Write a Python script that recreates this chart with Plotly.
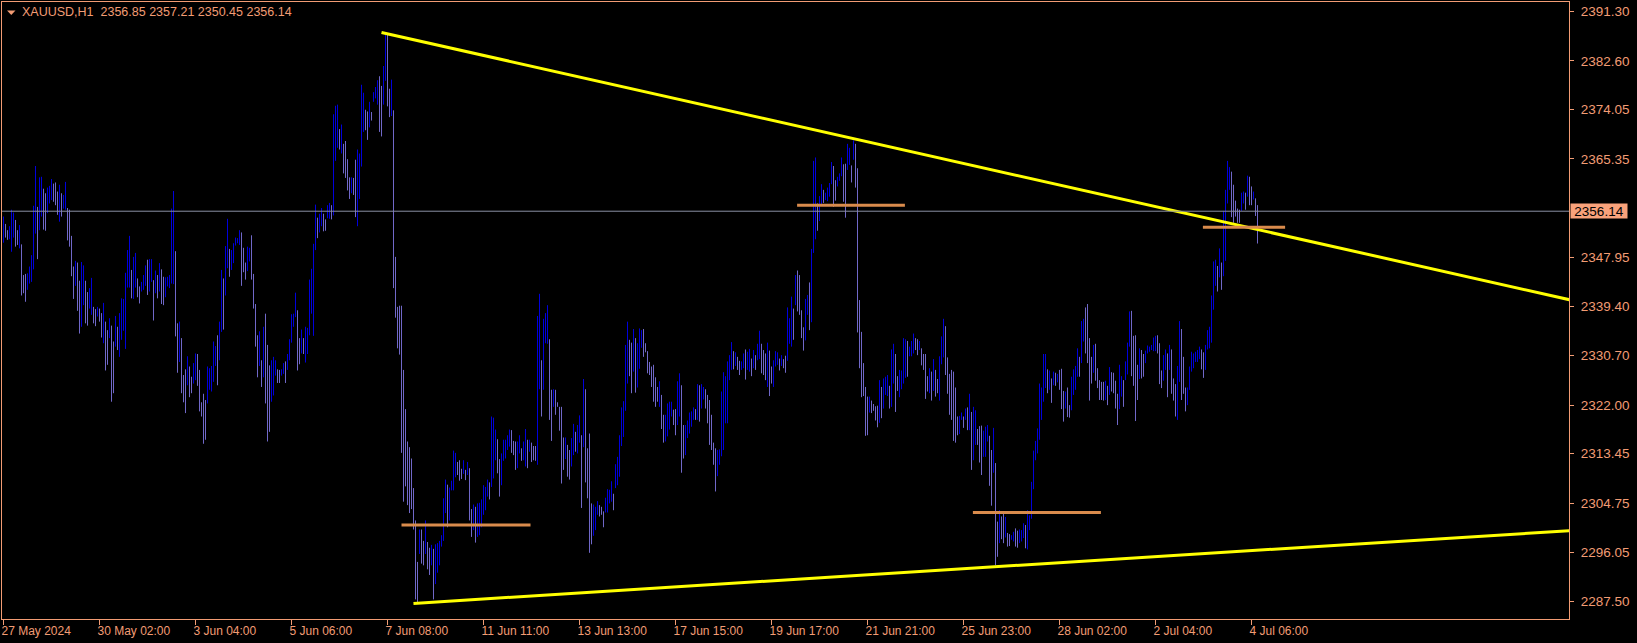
import plotly.graph_objects as go

# ---------------- data (XAUUSD H1) ----------------
symbol_header = "XAUUSD,H1  2356.85 2357.21 2350.45 2356.14"
bid_price = 2356.14

bar_high = [
    2355.2, 2353.9, 2352.8, 2353.5, 2356.4, 2355.9, 2354.6, 2352.8, 2353.7, 2350.3,  # 0
    2344.9, 2345.1, 2345.2, 2346.4, 2348.4, 2357.1, 2364.1, 2356.9, 2362.1, 2362.2,  # 10
    2360.1, 2359.3, 2360.3, 2360.6, 2361.8, 2361.0, 2361.2, 2359.6, 2360.8, 2359.3,  # 20
    2359.0, 2361.3, 2356.7, 2356.4, 2351.8, 2346.4, 2347.4, 2347.1, 2343.9, 2347.2,  # 30
    2346.6, 2343.9, 2341.9, 2342.6, 2344.4, 2339.3, 2338.9, 2339.3, 2339.0, 2338.2,  # 40
    2340.0, 2336.7, 2335.2, 2337.3, 2336.0, 2333.2, 2337.7, 2335.8, 2338.2, 2340.8,  # 50
    2340.7, 2345.3, 2349.3, 2351.8, 2345.8, 2348.1, 2348.8, 2344.3, 2342.9, 2343.7,  # 60
    2344.9, 2346.6, 2347.6, 2347.7, 2347.7, 2344.0, 2345.7, 2344.9, 2347.0, 2345.9,  # 70
    2344.6, 2344.5, 2344.6, 2344.9, 2356.6, 2359.7, 2349.1, 2336.4, 2336.7, 2333.8,  # 80
    2327.3, 2328.3, 2330.6, 2328.8, 2327.0, 2329.4, 2331.1, 2331.0, 2328.2, 2322.5,  # 90
    2324.0, 2322.9, 2328.8, 2328.5, 2328.9, 2333.2, 2332.4, 2334.3, 2336.7, 2345.8,  # 100
    2344.3, 2350.0, 2354.8, 2349.5, 2349.3, 2350.5, 2351.5, 2351.4, 2352.8,          # 110
    2352.4, 2349.7, 2347.1, 2349.9, 2349.7, 2351.9, 2345.1, 2339.8, 2334.3, 2335.0,  # 119
    2329.9, 2335.8, 2338.1, 2332.6, 2329.0, 2329.9, 2330.5, 2329.9, 2328.3, 2328.2,  # 129
    2328.3, 2329.4, 2329.7, 2331.0, 2333.6, 2338.0, 2338.1, 2341.8, 2338.7, 2333.8,  # 139
    2335.3, 2333.8, 2335.8, 2335.6, 2344.1, 2346.0, 2350.4, 2357.3, 2355.0, 2355.7,  # 149
    2356.7, 2355.7, 2354.7, 2357.2, 2357.6, 2357.2, 2373.2, 2374.7, 2374.9, 2370.6,  # 159
    2371.4, 2368.0, 2368.5, 2365.3, 2362.1, 2362.1, 2362.0, 2365.2, 2367.0, 2366.3,  # 169
    2378.4, 2377.0, 2374.0, 2373.7, 2375.4, 2373.6, 2377.1, 2378.0, 2379.2, 2379.9,  # 179
    2378.2, 2381.7, 2387.3, 2387.3, 2377.7, 2379.3, 2373.9, 2348.1, 2339.3, 2339.5,  # 189
    2339.5, 2328.2, 2321.3, 2315.6, 2314.6, 2312.6, 2307.4, 2301.7, 2294.4, 2300.1,  # 199
    2300.1, 2298.1, 2301.7, 2297.9, 2296.9, 2297.4, 2296.7, 2297.5, 2297.7, 2298.1,  # 209
    2299.1, 2305.6, 2308.9, 2308.0, 2307.5, 2308.7, 2314.0, 2313.6, 2312.0, 2312.3,  # 219
    2310.8, 2312.3, 2310.6, 2312.0, 2310.9, 2303.7, 2304.5, 2304.1, 2304.7, 2304.8,  # 229
    2305.4, 2307.9, 2307.6, 2308.9, 2308.4, 2320.0, 2319.8, 2317.7, 2316.0, 2312.5,  # 239
    2313.5, 2315.9, 2315.9, 2316.7, 2317.7, 2317.6, 2315.7, 2315.6, 2315.6, 2316.7,  # 249
    2314.4, 2315.6, 2317.8, 2315.9, 2315.9, 2315.4, 2314.8, 2314.8, 2337.7, 2341.6,  # 259
    2329.9, 2337.2, 2338.2, 2339.6, 2333.6, 2324.7, 2324.8, 2324.7, 2322.5, 2321.7,  # 269
    2321.7, 2316.3, 2316.3, 2315.0, 2314.1, 2316.2, 2318.7, 2317.3, 2318.5, 2320.2,  # 279
    2316.7, 2326.6, 2324.8, 2314.4, 2317.0, 2304.7, 2304.5, 2304.1, 2305.1, 2304.4,  # 289
    2304.1, 2303.3, 2305.7, 2307.2, 2307.1, 2308.6, 2306.4, 2311.6, 2312.9, 2316.7,  # 299
    2321.6, 2322.7, 2332.6, 2336.7, 2333.5, 2333.0, 2335.4, 2333.8, 2332.9, 2335.5,  # 309
    2335.2, 2335.4, 2332.9, 2331.5, 2329.6, 2328.8, 2329.1, 2326.9, 2325.2, 2326.2,  # 319
    2323.8, 2320.3, 2320.3, 2322.3, 2322.6, 2322.6, 2321.2, 2321.3, 2326.2, 2327.6,  # 329
    2325.5, 2318.5, 2318.5, 2319.3, 2320.7, 2320.9, 2321.6, 2321.3, 2325.7, 2325.5,  # 339
    2325.7, 2325.2, 2324.8, 2323.8, 2322.9, 2320.3, 2315.4, 2314.4, 2314.1, 2314.2,  # 349
    2324.4, 2327.8, 2327.1, 2329.7, 2330.8, 2333.1, 2331.5, 2331.3, 2330.5, 2329.8,  # 359
    2329.7, 2331.1, 2331.8, 2331.4, 2331.9, 2330.2, 2331.7, 2330.8, 2332.8, 2335.1,  # 369
    2332.8, 2331.7, 2331.1, 2333.0, 2331.6, 2328.8, 2329.9, 2331.5, 2331.3, 2330.2,  # 379
    2330.8, 2330.1, 2330.7, 2339.2, 2337.3, 2341.1, 2339.0, 2344.9, 2345.7, 2344.9,  # 389
    2338.7, 2335.7, 2340.7, 2341.4, 2343.6, 2349.5, 2365.0, 2365.6, 2357.5, 2358.8,  # 399
    2360.9, 2359.9, 2359.4, 2360.3, 2361.1, 2364.8, 2364.1, 2361.6, 2362.2, 2362.8,  # 409
    2365.6, 2364.4, 2364.5, 2368.0, 2367.3, 2364.2, 2368.6, 2368.0, 2363.7, 2340.5,  # 419
    2334.9, 2329.4, 2325.2, 2323.5, 2323.5, 2322.8, 2322.2, 2321.8, 2321.9, 2326.4,  # 429
    2325.2, 2326.7, 2327.0, 2327.3, 2325.4, 2331.8, 2332.8, 2331.0, 2327.1, 2328.2,  # 439
    2328.1, 2333.8, 2333.6, 2333.3, 2332.3, 2333.3, 2334.6, 2333.8, 2333.6, 2333.3,  # 449
    2332.0, 2331.0, 2331.0, 2327.1, 2328.5, 2327.9, 2330.1, 2328.2, 2326.6, 2330.6,  # 459
    2334.1, 2337.2, 2335.9, 2330.4, 2327.5, 2328.2, 2327.9, 2325.1, 2320.0, 2320.1,  # 469
    2320.7, 2320.0, 2321.4, 2321.6, 2324.0, 2320.8, 2321.7, 2321.1, 2317.8, 2318.3,  # 479
    2318.4, 2317.5, 2318.2, 2318.5, 2316.6, 2314.1, 2318.0, 2311.8, 2301.5, 2303.5,  # 489
    2302.4, 2303.1, 2302.3, 2299.5, 2299.3, 2299.1, 2299.7, 2300.3, 2299.9, 2300.1,  # 499
    2300.0, 2301.2, 2300.9, 2303.5, 2302.6, 2308.5, 2314.0, 2315.7, 2317.9, 2325.8,  # 509
    2325.1, 2331.0, 2331.0, 2328.3, 2328.1, 2326.7, 2327.9, 2327.7, 2327.5, 2328.2,  # 519
    2328.4, 2324.5, 2324.4, 2325.1, 2322.0, 2327.0, 2328.3, 2328.9, 2332.0, 2330.5,  # 529
    2336.8, 2337.2, 2339.2, 2339.8, 2333.8, 2330.5, 2332.6, 2332.8, 2328.5, 2326.4,  # 539
    2326.1, 2326.1, 2326.3, 2325.4, 2328.7, 2327.8, 2327.7, 2326.3, 2324.0, 2329.1,  # 549
    2327.1, 2326.4, 2329.7, 2333.0, 2338.5, 2338.6, 2334.2, 2334.3, 2329.1, 2332.0,  # 559
    2331.7, 2331.0, 2331.6, 2332.5, 2332.3, 2332.6, 2333.9, 2334.2, 2334.3, 2332.9,  # 569
    2328.1, 2330.8, 2331.8, 2331.1, 2332.6, 2331.8, 2326.7, 2325.7, 2328.9, 2336.8,  # 579
    2335.4, 2330.5, 2325.1, 2325.1, 2328.8, 2331.4, 2331.1, 2331.4, 2331.7, 2332.3,  # 589
    2331.8, 2331.3, 2332.6, 2335.2, 2335.8, 2341.3, 2347.3, 2347.6, 2346.5, 2349.6,  # 599
    2347.1, 2356.2, 2359.9, 2365.0, 2363.9, 2363.1, 2360.8, 2358.0, 2356.6, 2356.4,  # 609
    2359.4, 2359.6, 2359.4, 2362.4, 2362.2, 2360.5, 2359.6, 2358.4, 2357.21,         # 619
]

bar_low = [
    2350.6, 2351.5, 2351.1, 2351.2, 2349.0, 2351.5, 2349.9, 2350.2, 2349.6, 2341.3,  # 0
    2341.7, 2340.2, 2342.3, 2343.4, 2343.7, 2345.9, 2352.2, 2347.7, 2352.8, 2355.2,  # 10
    2352.9, 2352.7, 2355.8, 2357.5, 2358.1, 2357.8, 2357.2, 2355.5, 2354.3, 2355.2,  # 20
    2356.6, 2356.4, 2351.0, 2349.9, 2344.7, 2340.7, 2343.0, 2338.6, 2334.6, 2335.8,  # 30
    2339.6, 2336.4, 2336.0, 2339.0, 2337.9, 2336.4, 2335.9, 2337.6, 2336.7, 2333.9,  # 40
    2332.9, 2328.1, 2329.1, 2333.8, 2322.6, 2324.1, 2332.3, 2331.7, 2330.5, 2333.5,  # 50
    2335.1, 2331.9, 2342.7, 2342.7, 2340.8, 2340.7, 2342.7, 2341.0, 2339.9, 2342.0,  # 60
    2342.3, 2343.0, 2341.4, 2342.0, 2343.7, 2336.9, 2341.7, 2340.8, 2342.0, 2339.8,  # 70
    2339.6, 2341.0, 2342.9, 2342.6, 2343.4, 2343.3, 2334.1, 2327.7, 2329.6, 2324.1,  # 80
    2322.5, 2320.6, 2325.5, 2323.4, 2324.1, 2325.8, 2326.4, 2325.4, 2320.9, 2320.0,  # 90
    2315.2, 2315.9, 2322.3, 2324.7, 2324.4, 2326.1, 2328.9, 2325.5, 2329.9, 2334.9,  # 100
    2335.3, 2341.3, 2346.1, 2344.6, 2345.8, 2347.0, 2350.1, 2350.5, 2350.2,          # 110
    2343.0, 2345.4, 2344.1, 2345.6, 2347.3, 2344.1, 2339.0, 2332.3, 2326.9, 2328.9,  # 119
    2325.2, 2326.9, 2322.3, 2315.6, 2317.3, 2322.6, 2323.7, 2327.2, 2325.9, 2325.9,  # 129
    2327.2, 2327.5, 2325.9, 2328.2, 2329.9, 2333.0, 2335.8, 2337.5, 2328.1, 2329.2,  # 139
    2331.1, 2331.0, 2329.5, 2331.0, 2334.3, 2338.1, 2334.2, 2349.3, 2351.4, 2352.4,  # 149
    2353.5, 2352.6, 2352.7, 2354.9, 2354.8, 2354.7, 2355.4, 2365.0, 2367.3, 2367.0,  # 159
    2366.3, 2362.8, 2362.0, 2359.8, 2358.3, 2359.3, 2359.0, 2355.1, 2353.5, 2358.3,  # 169
    2364.0, 2370.1, 2370.4, 2368.7, 2370.9, 2372.1, 2375.4, 2376.0, 2374.9, 2370.1,  # 179
    2369.3, 2374.9, 2379.1, 2374.6, 2372.7, 2372.9, 2342.6, 2337.4, 2332.0, 2330.9,  # 189
    2313.6, 2305.0, 2307.7, 2304.4, 2303.0, 2303.7, 2300.1, 2287.8, 2287.0, 2295.8,  # 199
    2294.1, 2293.8, 2295.8, 2293.1, 2292.1, 2293.8, 2287.8, 2290.5, 2292.5, 2293.8,  # 209
    2297.1, 2298.1, 2303.0, 2300.5, 2301.7, 2307.0, 2307.0, 2309.3, 2309.7, 2308.7,  # 219
    2309.0, 2309.9, 2308.8, 2309.7, 2301.7, 2298.8, 2300.0, 2297.8, 2298.8, 2299.1,  # 229
    2300.5, 2302.7, 2303.5, 2305.9, 2305.4, 2307.6, 2309.1, 2312.3, 2310.0, 2305.9,  # 239
    2307.9, 2312.2, 2312.6, 2314.1, 2314.7, 2313.6, 2313.2, 2310.6, 2310.9, 2313.5,  # 249
    2312.2, 2312.3, 2311.2, 2310.9, 2313.8, 2312.0, 2312.3, 2312.2, 2311.5, 2324.8,  # 259
    2320.0, 2324.7, 2332.9, 2332.8, 2319.4, 2315.7, 2321.7, 2320.3, 2321.7, 2317.5,  # 269
    2308.2, 2310.6, 2312.5, 2309.4, 2308.9, 2311.2, 2313.2, 2313.8, 2313.5, 2315.4,  # 279
    2303.9, 2314.6, 2308.4, 2305.6, 2296.0, 2297.5, 2299.0, 2300.0, 2302.7, 2302.4,  # 289
    2302.7, 2300.5, 2303.1, 2303.1, 2304.7, 2305.0, 2303.5, 2307.4, 2307.9, 2309.4,  # 299
    2314.8, 2316.4, 2321.0, 2325.8, 2327.1, 2324.1, 2327.9, 2324.2, 2325.1, 2328.4,  # 309
    2332.1, 2330.5, 2331.3, 2327.6, 2327.3, 2325.2, 2322.6, 2321.7, 2322.6, 2321.7,  # 319
    2317.8, 2315.4, 2315.6, 2316.5, 2317.7, 2320.0, 2318.5, 2316.7, 2318.5, 2320.0,  # 329
    2310.1, 2312.6, 2313.2, 2316.2, 2317.0, 2318.2, 2319.4, 2319.4, 2319.4, 2319.1,  # 339
    2321.4, 2323.0, 2321.4, 2318.8, 2315.0, 2314.1, 2311.5, 2306.8, 2309.5, 2311.5,  # 349
    2313.0, 2314.1, 2318.8, 2318.8, 2326.4, 2328.2, 2328.3, 2328.9, 2328.2, 2327.3,  # 359
    2328.2, 2328.5, 2326.5, 2328.2, 2327.9, 2327.1, 2328.5, 2328.2, 2329.9, 2330.1,  # 369
    2327.6, 2327.3, 2326.4, 2325.2, 2323.6, 2325.8, 2325.2, 2328.8, 2329.1, 2328.1,  # 379
    2328.9, 2328.5, 2327.7, 2329.8, 2332.8, 2332.3, 2333.5, 2339.6, 2338.5, 2337.9,  # 389
    2333.8, 2331.6, 2333.4, 2337.9, 2335.2, 2336.6, 2348.8, 2351.2, 2352.7, 2354.4,  # 399
    2357.2, 2357.6, 2358.1, 2357.9, 2358.7, 2360.9, 2356.9, 2358.0, 2360.5, 2361.5,  # 409
    2362.3, 2357.8, 2355.0, 2363.4, 2364.3, 2361.2, 2365.2, 2360.3, 2334.8, 2328.5,  # 419
    2323.4, 2323.6, 2316.6, 2316.7, 2320.7, 2320.6, 2321.0, 2319.3, 2318.1, 2318.9,  # 429
    2319.7, 2321.4, 2323.8, 2323.6, 2321.4, 2321.7, 2325.8, 2320.8, 2324.5, 2323.4,  # 439
    2324.8, 2325.8, 2326.8, 2327.0, 2330.6, 2330.6, 2331.1, 2331.7, 2330.8, 2331.7,  # 449
    2329.0, 2328.2, 2323.1, 2324.4, 2324.1, 2322.8, 2324.5, 2323.5, 2324.1, 2322.8,  # 459
    2329.2, 2330.4, 2327.3, 2324.0, 2320.3, 2319.4, 2315.7, 2315.4, 2316.7, 2316.9,  # 469
    2319.4, 2318.0, 2319.4, 2317.6, 2317.6, 2310.6, 2312.3, 2315.0, 2315.0, 2311.9,  # 479
    2309.7, 2312.9, 2312.9, 2315.6, 2307.8, 2304.3, 2310.1, 2293.8, 2295.3, 2297.7,  # 489
    2298.4, 2297.7, 2298.7, 2297.1, 2297.2, 2298.3, 2298.0, 2297.1, 2296.9, 2297.7,  # 499
    2298.0, 2298.6, 2296.8, 2296.6, 2300.0, 2302.0, 2307.2, 2312.3, 2313.5, 2315.9,  # 509
    2319.4, 2322.6, 2325.0, 2324.1, 2324.7, 2322.4, 2325.5, 2325.4, 2326.0, 2324.7,  # 519
    2321.3, 2319.1, 2321.4, 2319.9, 2319.8, 2321.1, 2323.8, 2324.7, 2327.0, 2327.0,  # 529
    2329.4, 2333.2, 2331.1, 2329.4, 2322.8, 2325.8, 2327.7, 2326.3, 2325.0, 2322.9,  # 539
    2322.9, 2322.8, 2322.9, 2322.0, 2323.8, 2324.4, 2324.1, 2321.4, 2318.5, 2321.3,  # 549
    2323.5, 2321.7, 2326.4, 2327.4, 2332.3, 2327.1, 2325.4, 2319.2, 2322.9, 2326.6,  # 559
    2326.7, 2327.0, 2329.4, 2331.1, 2331.4, 2331.7, 2331.5, 2331.5, 2331.1, 2325.7,  # 569
    2325.0, 2326.3, 2328.2, 2323.4, 2328.2, 2324.0, 2322.8, 2320.0, 2319.4, 2326.1,  # 579
    2322.9, 2324.0, 2320.9, 2322.0, 2324.7, 2327.9, 2328.5, 2329.6, 2329.6, 2330.1,  # 589
    2328.3, 2326.8, 2328.2, 2331.8, 2332.0, 2333.0, 2338.8, 2343.0, 2342.0, 2344.5,  # 599
    2342.3, 2344.7, 2347.4, 2357.5, 2359.9, 2355.1, 2354.1, 2355.2, 2354.1, 2354.1,  # 609
    2356.2, 2357.5, 2356.4, 2358.7, 2357.2, 2357.2, 2358.2, 2355.3, 2350.45,         # 619
]

x_tick_bars = [0, 48, 96, 144, 192, 240, 288, 336, 384, 432, 480, 528, 576, 624]
x_tick_labels = ["27 May 2024", "30 May 02:00", "3 Jun 04:00", "5 Jun 06:00",
                 "7 Jun 08:00", "11 Jun 11:00", "13 Jun 13:00", "17 Jun 15:00",
                 "19 Jun 17:00", "21 Jun 21:00", "25 Jun 23:00", "28 Jun 02:00",
                 "2 Jul 04:00", "4 Jul 06:00"]
y_tick_values = [2391.30, 2382.60, 2374.05, 2365.35, 2347.95, 2339.40,
                 2330.70, 2322.00, 2313.45, 2304.75, 2296.05, 2287.50]

# drawn objects (bar index, price)
upper_trend_bars = [189, 785]
upper_trend_prices = [2387.6, 2340.4]
lower_trend_bars = [205, 785]
lower_trend_prices = [2287.1, 2299.95]
level_start_bars = [199, 396.8, 484.7, 599.7]
level_end_bars = [263.5, 450.7, 548.7, 640.8]
level_prices = [2300.9, 2357.2, 2303.1, 2353.3]

# ---------------- style ----------------
AX = "#F29C74"
UP = "#0000DC"
DOWN = "#7068C8"
FONT = "Liberation Sans"

W, H = 1637, 643
ml, mr, mt, mb = 2, 68, 2, 24
pw, ph = W - ml - mr, H - mt - mb
x0 = -0.75                 # puts every bar on a pixel centre, 2 px per bar
x1 = x0 + pw / 2.0

n = min(len(bar_high), len(bar_low))
up_x, up_y, dn_x, dn_y = [], [], [], []
prev_mid = None
for k in range(n):
    mid = (bar_high[k] + bar_low[k]) / 2
    is_up = prev_mid is None or mid >= prev_mid
    prev_mid = mid
    xs, ys = (up_x, up_y) if is_up else (dn_x, dn_y)
    xs += [k, k, None]
    ys += [bar_low[k], bar_high[k], None]

fig = go.Figure()
fig.add_trace(go.Scatter(x=dn_x, y=dn_y, mode="lines", line=dict(color=DOWN, width=1),
                         hoverinfo="skip"))
fig.add_trace(go.Scatter(x=up_x, y=up_y, mode="lines", line=dict(color=UP, width=1),
                         hoverinfo="skip"))

shapes = []
shapes.append(dict(type="line", xref="paper", x0=0, x1=1, yref="y", y0=bid_price, y1=bid_price,
                   line=dict(color="#8A90A4", width=1), layer="above"))
for s, e, p in zip(level_start_bars, level_end_bars, level_prices):
    shapes.append(dict(type="line", xref="x", yref="y", x0=s, x1=e, y0=p, y1=p,
                       line=dict(color="#D98B4C", width=3), layer="above"))

def px(xpix):
    return (xpix - ml) / pw

def py(ypix):
    return 1 - (ypix - mt) / ph

shapes.append(dict(type="path", xref="paper", yref="paper",
                   path=f"M {px(7)},{py(10.5)} L {px(15.5)},{py(10.5)} L {px(11.25)},{py(15)} Z",
                   fillcolor=AX, line=dict(width=0)))
fig.update_layout(shapes=shapes)

fig.add_trace(go.Scatter(x=upper_trend_bars, y=upper_trend_prices, mode="lines",
                         line=dict(color="#FFFF00", width=3), hoverinfo="skip"))
fig.add_trace(go.Scatter(x=lower_trend_bars, y=lower_trend_prices, mode="lines",
                         line=dict(color="#FFFF00", width=3), hoverinfo="skip"))

fig.add_annotation(xref="paper", yref="paper", x=px(20), y=py(12.5), xanchor="left",
                   yanchor="middle", text=symbol_header, showarrow=False,
                   font=dict(family=FONT, size=12.5, color=AX))
fig.add_annotation(xref="paper", yref="y", x=1, y=bid_price, xanchor="left", yanchor="middle",
                   xshift=1, text=f"{bid_price:.2f}", showarrow=False, bgcolor="#F9A27B",
                   width=56, height=14, align="center", borderpad=0,
                   font=dict(family=FONT, size=13.5, color="#000000"))

fig.update_layout(
    width=W, height=H,
    margin=dict(l=ml, r=mr, t=mt, b=mb, autoexpand=False),
    paper_bgcolor="#000000", plot_bgcolor="#000000",
    showlegend=False,
)
fig.update_xaxes(range=[x0, x1], tickmode="array", tickvals=x_tick_bars, ticktext=x_tick_labels,
                 ticks="outside", ticklen=5, tickcolor=AX, tickwidth=1,
                 showline=True, linecolor=AX, linewidth=1, mirror=True, automargin=False,
                 showgrid=False, zeroline=False, ticklabelposition="outside right",
                 ticklabelshift=-3, ticklabelstandoff=1,
                 tickfont=dict(family=FONT, size=12, color=AX))
fig.update_yaxes(range=[2284.35, 2392.97], side="right", tickmode="array",
                 tickvals=y_tick_values, ticktext=[f"{v:.2f}" for v in y_tick_values],
                 ticks="outside", ticklen=4, tickcolor=AX, tickwidth=1,
                 showline=True, linecolor=AX, linewidth=1, mirror=True, automargin=False,
                 showgrid=False, zeroline=False, ticklabelstandoff=4,
                 tickfont=dict(family=FONT, size=13.5, color=AX))

fig.write_html("out.html", config={"displayModeBar": False},
               post_script="document.body.style.margin='0';document.body.style.background='#000';")
